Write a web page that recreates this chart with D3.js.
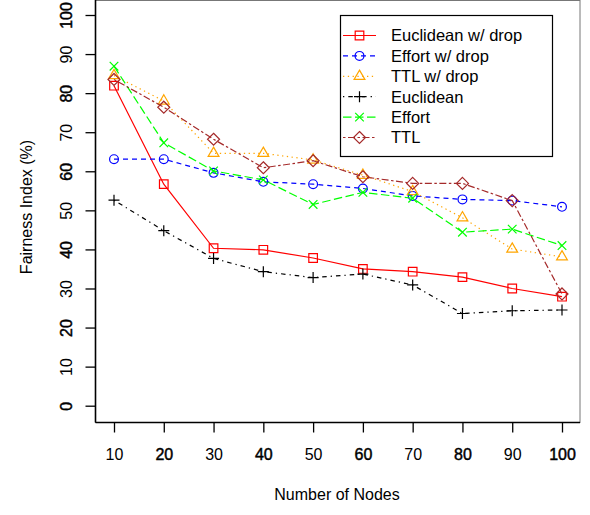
<!DOCTYPE html>
<html>
<head>
<meta charset="utf-8">
<script src="https://cdn.jsdelivr.net/npm/d3@7"></script>
<style>
  html, body { margin: 0; padding: 0; background: #fff; }
  svg text { font-family: "Liberation Sans", Arial, Helvetica, sans-serif; }
</style>
</head>
<body>
<svg id="chart" width="590" height="515"></svg>
<script>
// Number of nodes on the x axis
const nodes = [10, 20, 30, 40, 50, 60, 70, 80, 90, 100];
const yTicks = [0, 10, 20, 30, 40, 50, 60, 70, 80, 90, 100];

// Fairness index (%) per scheme
const euclideanDrop = [81.9, 56.7, 40.3, 39.9, 37.8, 35.0, 34.3, 32.9, 30.0, 27.9];
const effortDrop    = [63.1, 63.1, 59.6, 57.3, 56.7, 55.6, 53.7, 52.8, 52.5, 50.9];
const ttlDrop       = [84.5, 78.0, 64.6, 64.6, 62.9, 59.0, 54.8, 48.1, 40.1, 38.1];
const euclidean     = [52.6, 44.8, 37.7, 34.3, 32.8, 33.7, 30.9, 23.6, 24.3, 24.5];
const effort        = [86.9, 67.3, 60.1, 57.8, 51.5, 54.6, 53.1, 44.4, 45.2, 41.0];
const ttl           = [83.5, 76.4, 68.2, 60.9, 62.7, 58.6, 56.9, 56.9, 52.5, 28.6];

const seriesNames = ["Euclidean w/ drop", "Effort w/ drop", "TTL w/ drop", "Euclidean", "Effort", "TTL"];

const series = [
  { name: seriesNames[0], values: euclideanDrop, color: "#ff0000", dash: null,            symbol: "square" },
  { name: seriesNames[1], values: effortDrop,    color: "#0000ff", dash: "5,4",           symbol: "circle" },
  { name: seriesNames[2], values: ttlDrop,       color: "#ffa500", dash: "1.3,3.5",       symbol: "triangle" },
  { name: seriesNames[3], values: euclidean,     color: "#000000", dash: "1.3,4,4.5,4",   symbol: "plus" },
  { name: seriesNames[4], values: effort,        color: "#00ff00", dash: "8.5,3.5",       symbol: "cross" },
  { name: seriesNames[5], values: ttl,           color: "#a52a2a", dash: "2.5,2.5,7,2.5", symbol: "diamond" }
];

const svg = d3.select("#chart");

const box = { left: 95.5, right: 580, top: 0.5, bottom: 422.5 };

const x = d3.scaleLinear().domain([10, 100]).range([114, 562]);
const y = d3.scaleLinear().domain([0, 100]).range([405.7, 15]);

// plot frame
svg.append("rect")
  .attr("x", box.left).attr("y", box.top)
  .attr("width", box.right - box.left).attr("height", box.bottom - box.top)
  .attr("fill", "none").attr("stroke", "#777").attr("stroke-width", 1);

// x axis
const gx = svg.append("g")
  .attr("transform", `translate(0,${box.bottom})`)
  .call(d3.axisBottom(x).tickValues(nodes).tickSize(10).tickFormat(d3.format("d")));
gx.select(".domain").remove();
gx.selectAll(".tick line").attr("stroke", "#000").attr("stroke-width", 1.3);
gx.selectAll(".tick text")
  .attr("y", 37).attr("dy", 0)
  .attr("font-size", 16)
  .attr("fill", "#000")
  .attr("stroke", (d, i) => i % 2 === 1 ? "#000" : "none")
  .attr("stroke-width", 0.45);

// y axis
const gy = svg.append("g")
  .attr("transform", `translate(${box.left},0)`)
  .call(d3.axisLeft(y).tickValues(yTicks).tickSize(10).tickFormat(d3.format("d")));
gy.select(".domain").remove();
gy.selectAll(".tick line").attr("stroke", "#000").attr("stroke-width", 1.3);
gy.selectAll(".tick text")
  .attr("transform", "rotate(-90)")
  .attr("x", 0).attr("y", -24).attr("dy", 0)
  .attr("text-anchor", "middle")
  .attr("font-size", 16)
  .attr("fill", "#000")
  .attr("stroke", (d, i) => i % 2 === 0 ? "#000" : "none")
  .attr("stroke-width", 0.45);

// heavier left and bottom axis lines
svg.append("line")
  .attr("x1", box.left).attr("x2", box.left).attr("y1", 0).attr("y2", box.bottom)
  .attr("stroke", "#000").attr("stroke-width", 1.6);
svg.append("line")
  .attr("x1", box.left).attr("x2", box.right).attr("y1", box.bottom).attr("y2", box.bottom)
  .attr("stroke", "#000").attr("stroke-width", 1.6);

// axis titles
svg.append("text")
  .attr("x", 337).attr("y", 500)
  .attr("text-anchor", "middle")
  .attr("font-size", 16)
  .text("Number of Nodes");
svg.append("text")
  .attr("transform", "translate(32,207) rotate(-90)")
  .attr("text-anchor", "middle")
  .attr("font-size", 16)
  .text("Fairness Index (%)");

// marker shapes
function symbolPath(kind) {
  switch (kind) {
    case "square":   return "M-4.3,-4.3H4.3V4.3H-4.3Z";
    case "circle":   return "M4.4,0A4.4,4.4 0 1,1 -4.4,0A4.4,4.4 0 1,1 4.4,0Z";
    case "triangle": return "M0,-6.2L5.4,3.1L-5.4,3.1Z";
    case "plus":     return "M-5.5,0H5.5M0,-5.5V5.5";
    case "cross":    return "M-4.3,-4.3L4.3,4.3M-4.3,4.3L4.3,-4.3";
    case "diamond":  return "M0,-6L6,0L0,6L-6,0Z";
  }
}

const line = d3.line()
  .x((d, i) => x(nodes[i]))
  .y(d => y(d));

const plot = svg.append("g");
series.forEach(s => {
  plot.append("path")
    .datum(s.values)
    .attr("d", line)
    .attr("fill", "none")
    .attr("stroke", s.color)
    .attr("stroke-width", 1.2)
    .attr("stroke-dasharray", s.dash);
  plot.selectAll(null)
    .data(s.values)
    .enter().append("path")
    .attr("transform", (d, i) => `translate(${x(nodes[i])},${y(d)})`)
    .attr("d", symbolPath(s.symbol))
    .attr("fill", "none")
    .attr("stroke", s.color)
    .attr("stroke-width", 1.2);
});

// legend
const legend = svg.append("g");
legend.append("rect")
  .attr("x", 340.5).attr("y", 15.5).attr("width", 212).attr("height", 141)
  .attr("fill", "#fff").attr("stroke", "#000").attr("stroke-width", 1.2);
series.forEach((s, i) => {
  const ly = 35.5 + i * 20.4;
  legend.append("line")
    .attr("x1", 343).attr("x2", 376).attr("y1", ly).attr("y2", ly)
    .attr("stroke", s.color).attr("stroke-width", 1.2)
    .attr("stroke-dasharray", s.dash);
  legend.append("path")
    .attr("transform", `translate(359.5,${ly})`)
    .attr("d", symbolPath(s.symbol))
    .attr("fill", "none").attr("stroke", s.color).attr("stroke-width", 1.2);
  legend.append("text")
    .attr("x", 391).attr("y", ly).attr("dy", "0.36em")
    .attr("font-size", 16.5)
    .text(s.name);
});
</script>
</body>
</html>
